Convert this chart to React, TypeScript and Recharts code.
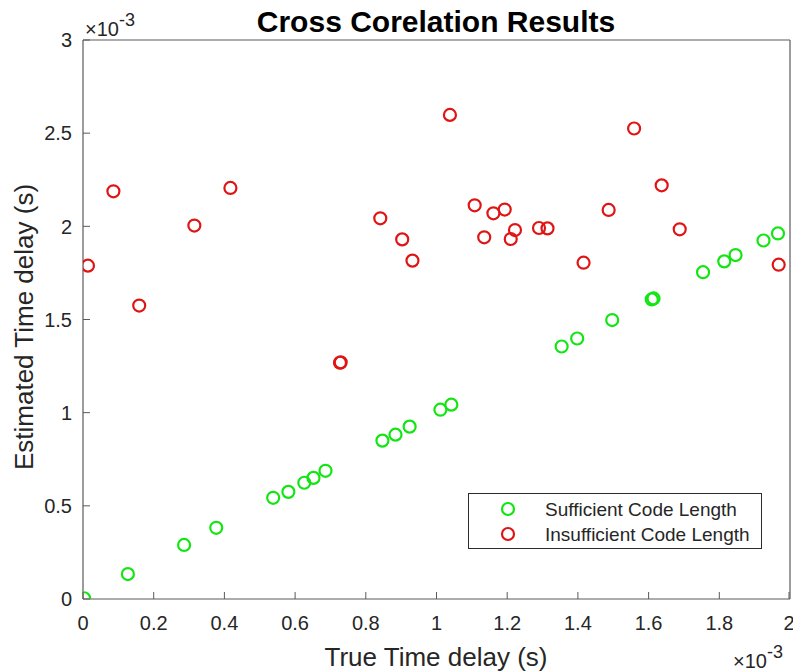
import { ScatterChart, Scatter, XAxis, YAxis, Legend } from 'recharts'

// values are in units of 1e-3 s (axes show the x10^-3 multiplier)
const sufficientX = [
  0.003, 0.127, 0.286, 0.377, 0.538, 0.581, 0.626, 0.652, 0.686, 0.847, 0.884, 0.924,
  1.011, 1.042, 1.354, 1.398, 1.497, 1.609, 1.614, 1.754, 1.814, 1.846, 1.925, 1.966,
]
const sufficientY = [
  0.004, 0.134, 0.29, 0.382, 0.543, 0.575, 0.624, 0.65, 0.688, 0.85, 0.882, 0.925,
  1.016, 1.043, 1.355, 1.398, 1.497, 1.608, 1.613, 1.754, 1.812, 1.846, 1.924, 1.962,
]

const insufficientX = [
  0.014, 0.086, 0.159, 0.315, 0.417, 0.727, 0.729, 0.841, 0.903, 0.932, 1.038, 1.108,
  1.135, 1.161, 1.193, 1.21, 1.222, 1.29, 1.314, 1.416, 1.487, 1.559, 1.637, 1.688, 1.968,
]
const insufficientY = [
  1.789, 2.188, 1.575, 2.004, 2.206, 1.268, 1.27, 2.043, 1.93, 1.816, 2.598, 2.113,
  1.941, 2.07, 2.09, 1.932, 1.98, 1.991, 1.989, 1.805, 2.088, 2.525, 2.22, 1.984, 1.794,
]

const xTicks = [0, 0.2, 0.4, 0.6, 0.8, 1, 1.2, 1.4, 1.6, 1.8, 2]
const yTicks = [0, 0.5, 1, 1.5, 2, 2.5, 3]

const sufficient = sufficientX.map((x, i) => ({ x, y: sufficientY[i] }))
const insufficient = insufficientX.map((x, i) => ({ x, y: insufficientY[i] }))

const GREEN = '#12e612'
const RED = '#e01414'
const AXIS = '#5a5a5a'
const TEXT = '#262626'
const FONT = '"Liberation Sans", Arial, Helvetica, sans-serif'

const ring = (color: string) => (p: any) => (
  <circle cx={p.cx} cy={p.cy} r={6} fill="none" stroke={color} strokeWidth={2.2} />
)

function BottomTick({ x, y, payload }: any) {
  return (
    <g>
      <line x1={x} y1={y} x2={x} y2={y - 7} stroke={AXIS} strokeWidth={1} />
      <text x={x} y={y + 31} textAnchor="middle" fontSize={20} fill={TEXT} fontFamily={FONT}>
        {payload.value}
      </text>
    </g>
  )
}

function LeftTick({ x, y, payload }: any) {
  return (
    <g>
      <line x1={x} y1={y} x2={x + 7} y2={y} stroke={AXIS} strokeWidth={1} />
      <text x={x - 11} y={y} dy="0.36em" textAnchor="end" fontSize={20} fill={TEXT} fontFamily={FONT}>
        {payload.value}
      </text>
    </g>
  )
}

function LegendBox() {
  const rows = [
    { name: 'Sufficient Code Length', color: GREEN },
    { name: 'Insufficient Code Length', color: RED },
  ]
  return (
    <div style={{ width: 294, height: 56, boxSizing: 'border-box', border: '1px solid #2b2b2b', background: '#fff' }}>
      <svg width={292} height={54}>
        {rows.map((r, i) => (
          <g key={r.name}>
            <circle cx={39} cy={15 + i * 25} r={6} fill="none" stroke={r.color} strokeWidth={2.2} />
            <text x={76} y={15 + i * 25} dy="0.36em" fontSize={19} fill={TEXT} fontFamily={FONT}>
              {r.name}
            </text>
          </g>
        ))}
      </svg>
    </div>
  )
}

export default function App() {
  return (
    <div style={{ position: 'absolute', left: 0, top: 0, width: 793, height: 671, background: '#fff' }}>
      <ScatterChart width={793} height={671} margin={{ top: 40, right: 3, bottom: 0, left: 0 }}>
        <XAxis
          xAxisId="b"
          type="number"
          dataKey="x"
          domain={[0, 2]}
          ticks={xTicks}
          allowDataOverflow
          height={72}
          tickSize={0}
          tickMargin={0}
          tickLine={false}
          axisLine={{ stroke: AXIS, strokeWidth: 1.2 }}
          tick={<BottomTick />}
        />
        <XAxis
          xAxisId="t"
          orientation="top"
          type="number"
          dataKey="x"
          domain={[0, 2]}
          ticks={xTicks}
          allowDataOverflow
          height={1}
          mirror
          tickSize={7}
          tick={false}
          tickLine={{ stroke: AXIS }}
          axisLine={{ stroke: AXIS, strokeWidth: 1.2 }}
        />
        <YAxis
          yAxisId="l"
          type="number"
          dataKey="y"
          domain={[0, 3]}
          ticks={yTicks}
          allowDataOverflow
          width={83}
          tickSize={0}
          tickMargin={0}
          tickLine={false}
          axisLine={{ stroke: AXIS, strokeWidth: 1.2 }}
          tick={<LeftTick />}
        />
        <YAxis
          yAxisId="r"
          orientation="right"
          type="number"
          dataKey="y"
          domain={[0, 3]}
          ticks={yTicks}
          allowDataOverflow
          width={1}
          mirror
          tickSize={7}
          tick={false}
          tickLine={{ stroke: AXIS }}
          axisLine={{ stroke: AXIS, strokeWidth: 1.2 }}
        />
        <Legend
          layout="vertical"
          align="center"
          verticalAlign="middle"
          wrapperStyle={{ left: 468, top: 493, width: 294, height: 56 }}
          content={<LegendBox />}
        />
        <Scatter
          name="Sufficient Code Length"
          data={sufficient}
          xAxisId="b"
          yAxisId="l"
          shape={ring(GREEN)}
          isAnimationActive={false}
        />
        <Scatter
          name="Insufficient Code Length"
          data={insufficient}
          xAxisId="b"
          yAxisId="l"
          shape={ring(RED)}
          isAnimationActive={false}
        />
      </ScatterChart>
      <svg
        width={793}
        height={671}
        style={{ position: 'absolute', left: 0, top: 0, pointerEvents: 'none' }}
        fontFamily={FONT}
      >
        <text x={436} y={32} textAnchor="middle" fontSize={30} fontWeight="bold" fill="#000">
          Cross Corelation Results
        </text>
        <text x={85} y={36} fontSize={20} fill={TEXT}>
          ×10<tspan dy={-10} fontSize={18}>-3</tspan>
        </text>
        <text x={733} y={668} fontSize={20} fill={TEXT}>
          ×10<tspan dy={-10} fontSize={18}>-3</tspan>
        </text>
        <text x={436} y={666} textAnchor="middle" fontSize={26} fill={TEXT}>
          True Time delay (s)
        </text>
        <text x={33} y={327} transform="rotate(-90 33 327)" textAnchor="middle" fontSize={26} fill={TEXT}>
          Estimated Time delay (s)
        </text>
      </svg>
    </div>
  )
}
